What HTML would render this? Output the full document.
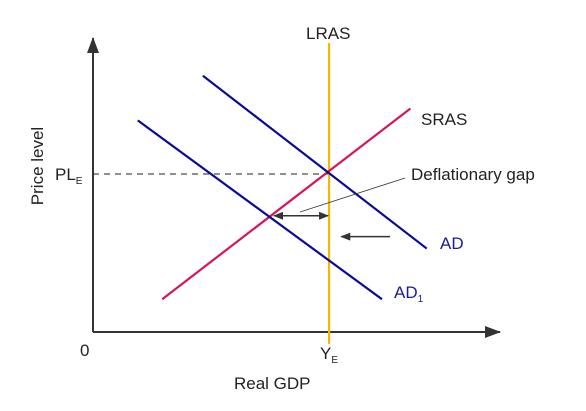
<!DOCTYPE html>
<html><head><meta charset="utf-8"><style>
body{margin:0;background:#fff;}
svg{display:block;font-family:"Liberation Sans",sans-serif;}
</style></head><body>
<svg id="c" width="586" height="411" viewBox="0 0 586 411">
<defs>
<marker id="ah" markerWidth="10" markerHeight="8" refX="9" refY="4" orient="auto" markerUnits="userSpaceOnUse"><path d="M0,0 L10,4 L0,8 Z" fill="#333"/></marker>
<marker id="ahb" markerWidth="16" markerHeight="12" refX="15" refY="6" orient="auto" markerUnits="userSpaceOnUse"><path d="M0,0 L16,6 L0,12 Z" fill="#333"/></marker>
<marker id="ahs" markerWidth="10" markerHeight="8" refX="1" refY="4" orient="auto" markerUnits="userSpaceOnUse"><path d="M10,0 L0,4 L10,8 Z" fill="#333"/></marker>
</defs>
<g id="g"></g>
<text x="80" y="356" font-size="17" fill="#222">0</text>
<text font-size="17" fill="#222" transform="translate(43 166) rotate(-90)" text-anchor="middle">Price level</text>
<text x="234" y="389" font-size="17" fill="#222">Real GDP</text>
<text x="55" y="180" font-size="17" fill="#222">PL<tspan font-size="10" dy="4">E</tspan></text>
<text x="320" y="359" font-size="17" fill="#222">Y<tspan font-size="10" dy="4">E</tspan></text>
<text x="306" y="39" font-size="17" fill="#222">LRAS</text>
<text x="421" y="125" font-size="17" fill="#222">SRAS</text>
<text x="411" y="180" font-size="17" fill="#222">Deflationary gap</text>
<text x="440" y="249" font-size="17" fill="#1a1a9a">AD</text>
<text x="394" y="298" font-size="17" fill="#1a1a9a">AD<tspan font-size="10" dy="4">1</tspan></text>
</svg>
<script>
// data units: x 0..100, y 0..100
const curveNames=["LRAS","SRAS","AD","AD1"];
const curveX1=[58,17,27,11];
const curveY1=[-4,11,86,71];
const curveX2=[58,78,82,71];
const curveY2=[97,75,28,11];
const curveColors=["#f5b800","#d8145a","#0a0a9a","#0a0a9a"];
const eqX=[58]; const eqY=[53];
const gapX=[44,58]; const gapY=[39];
const shiftX=[73,61]; const shiftY=[32];
const sx=v=>93+v*4.07, sy=v=>332-v*2.98;
const g=document.getElementById('g');
function ln(x1,y1,x2,y2,attrs,name){
 const e=document.createElementNS('http://www.w3.org/2000/svg','line');
 e.setAttribute('x1',x1);e.setAttribute('y1',y1);e.setAttribute('x2',x2);e.setAttribute('y2',y2);
 for(const k in attrs)e.setAttribute(k,attrs[k]);
 
 
 g.appendChild(e);return e;
}
ln(93,332,93,38,{stroke:'#333','stroke-width':2,'marker-end':'url(#ahb)'},'y-axis');
ln(93,332,500,332,{stroke:'#333','stroke-width':2,'marker-end':'url(#ahb)'},'x-axis');
ln(sx(0),sy(eqY[0]),sx(eqX[0]),sy(eqY[0]),{stroke:'#222','stroke-width':1,'stroke-dasharray':'6,5'},'ple-dashed-line');
ln(sx(eqX[0]),332,sx(eqX[0]),340,{stroke:'#333','stroke-width':1.5},'ye-tick');
curveNames.forEach((n,i)=>{
 ln(sx(curveX1[i]),sy(curveY1[i]),sx(curveX2[i]),sy(curveY2[i]),{stroke:curveColors[i],'stroke-width':2.2},n.toLowerCase()+'-line');
});
ln(sx(gapX[0])+2,sy(gapY[0]),sx(gapX[1])-1,sy(gapY[0]),{stroke:'#333','stroke-width':1.5,'marker-end':'url(#ah)','marker-start':'url(#ahs)'},'deflationary-gap-arrow');
ln(sx(shiftX[0]),sy(shiftY[0]),sx(shiftX[1]),sy(shiftY[0]),{stroke:'#333','stroke-width':1.5,'marker-end':'url(#ah)'},'ad-shift-arrow');
ln(300,212,405,178,{stroke:'#333','stroke-width':0.8},'gap-leader-line');
</script>
</body></html>
